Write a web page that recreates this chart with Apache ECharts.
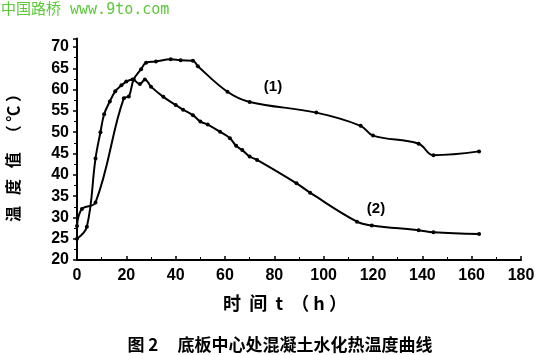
<!DOCTYPE html>
<html><head><meta charset="utf-8">
<script src="https://cdn.jsdelivr.net/npm/echarts@6/dist/echarts.min.js"></script>
<style>html,body{margin:0;padding:0;background:#fff}#c{width:560px;height:355px}</style>
</head><body><div id="c"></div>
<script>
// Curve (1): time (h), temperature (°C)
const curve1Time = [0, 2, 7.5, 19, 21, 23, 26, 28, 32, 38, 42, 47, 49, 61, 70, 97, 115, 120, 138.5, 144.5, 163];
const curve1Temp = [28, 32, 33.5, 58, 58.4, 62.4, 64.8, 66.3, 66.6, 67.1, 66.9, 66.8, 65.5, 59.5, 57.1, 54.6, 51.5, 49.2, 47.3, 44.6, 45.5];
// Curve (2)
const curve2Time = [0, 4, 7.5, 9.5, 11, 13.3, 15.5, 18, 20, 22.5, 25.5, 27.5, 30, 35, 40, 43, 47, 50, 53, 58, 62, 64.5, 67, 70, 73, 89, 94.5, 113.5, 119.5, 138.5, 144.5, 163];
const curve2Temp = [25, 27.8, 43.8, 50, 54.2, 57.2, 59.6, 61, 61.9, 62.4, 61.3, 62.4, 60.7, 58.3, 56.4, 55.3, 54, 52.5, 51.8, 50.1, 48.6, 46.8, 45.8, 44.3, 43.5, 38, 35.8, 29, 28.1, 27, 26.5, 26.1];
const xTicks = [0, 20, 40, 60, 80, 100, 120, 140, 160, 180];
const yTicks = [20, 25, 30, 35, 40, 45, 50, 55, 60, 65, 70];
const seriesNames = ['(1)', '(2)'];
const xTitle = '时  间  t  （ h ）';
const yTitle = '温   度   值   （ ℃ ）';
const caption = '图 2     底板中心处混凝土水化热温度曲线';
const watermark = '中国路桥 www.9to.com';

const zip = (a, b) => a.map((v, i) => [v, b[i]]);
const chart = echarts.init(document.getElementById('c'), null, {renderer: 'canvas'});
const bold = {fontFamily: 'Liberation Sans, Arial, sans-serif', fontWeight: 'bold', fontSize: 16, color: '#000'};
const lineSeries = (name, data) => ({
  name, type: 'line', data, smooth: 0.4,
  symbol: 'circle', symbolSize: 4,
  itemStyle: {color: '#000'},
  lineStyle: {color: '#000', width: 2},
  animation: false
});
chart.setOption({
  animation: false,
  grid: {left: 77, right: 39, top: 38.5, bottom: 95},
  xAxis: {
    type: 'value', min: xTicks[0], max: xTicks[xTicks.length - 1], interval: 20,
    axisLine: {lineStyle: {color: '#000', width: 2}},
    axisTick: {inside: true, length: 4, lineStyle: {color: '#000', width: 1.5}},
    minorTick: {show: true, splitNumber: 2, length: 3, lineStyle: {color: '#000'}},
    splitLine: {show: false},
    axisLabel: Object.assign({margin: 8}, bold)
  },
  yAxis: {
    type: 'value', min: yTicks[0], max: 72, interval: 5,
    axisLine: {lineStyle: {color: '#000', width: 2}},
    axisTick: {length: 4, lineStyle: {color: '#000', width: 1.5}},
    minorTick: {show: true, splitNumber: 2, length: 3, lineStyle: {color: '#000'}},
    splitLine: {show: false},
    axisLabel: Object.assign({margin: 8, showMaxLabel: false, formatter: v => yTicks.includes(v) ? String(v) : ''}, bold)
  },
  series: [lineSeries(seriesNames[0], zip(curve1Time, curve1Temp)), lineSeries(seriesNames[1], zip(curve2Time, curve2Temp))],
  graphic: [
    {type: 'text', left: 1, top: 3, style: {text: watermark, fill: '#5cc83a', font: '15px "DejaVu Sans Mono", "Noto Sans CJK SC", monospace'}},
    {type: 'text', x: 13, y: 154, rotation: Math.PI / 2, style: {text: yTitle, fill: '#000', font: 'bold 16px "Noto Sans CJK SC", sans-serif', align: 'center', verticalAlign: 'middle'}},
    {type: 'text', x: 285, y: 303, style: {text: xTitle, fill: '#000', font: 'bold 18px "Noto Sans CJK SC", sans-serif', align: 'center', verticalAlign: 'middle'}},
    {type: 'text', x: 280, y: 345, style: {text: caption, fill: '#000', font: 'bold 17px "Noto Sans CJK SC", sans-serif', align: 'center', verticalAlign: 'middle'}},
    {type: 'text', x: 273, y: 87, style: {text: seriesNames[0], fill: '#000', font: 'bold 15px "Liberation Sans", Arial, sans-serif', align: 'center', verticalAlign: 'middle'}},
    {type: 'text', x: 376, y: 209, style: {text: seriesNames[1], fill: '#000', font: 'bold 15px "Liberation Sans", Arial, sans-serif', align: 'center', verticalAlign: 'middle'}}
  ]
});
</script></body></html>
